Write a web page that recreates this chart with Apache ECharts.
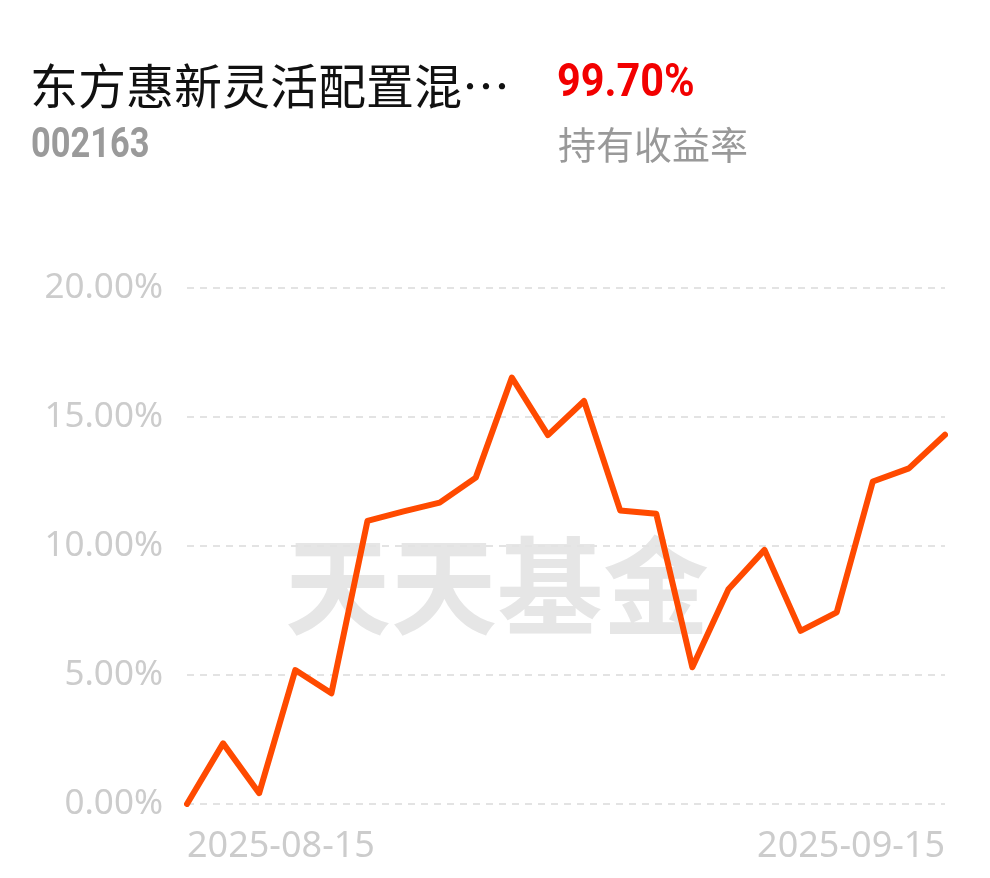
<!DOCTYPE html>
<html>
<head>
<meta charset="utf-8">
<script src="https://cdn.jsdelivr.net/npm/echarts@6/dist/echarts.min.js"></script>
<style>
html,body{margin:0;padding:0;background:#fff;}
#main{width:990px;height:878px;}
</style>
</head>
<body>
<div id="main"></div>
<script>
const dates = ['2025-08-15','2025-08-18','2025-08-19','2025-08-20','2025-08-21','2025-08-22',
  '2025-08-25','2025-08-26','2025-08-27','2025-08-28','2025-08-29',
  '2025-09-01','2025-09-02','2025-09-03','2025-09-04','2025-09-05',
  '2025-09-08','2025-09-09','2025-09-10','2025-09-11','2025-09-12','2025-09-15'];
const returns = [0.00, 2.35, 0.42, 5.19, 4.29, 10.97, 11.34, 11.68, 12.65, 16.53, 14.30,
  15.62, 11.38, 11.25, 5.30, 8.32, 9.85, 6.71, 7.43, 12.50, 13.01, 14.31];
const yTicks = [0, 5, 10, 15, 20];
const fundName = '东方惠新灵活配置混…';
const fundCode = '002163';
const holdReturn = '99.70%';
const holdLabel = '持有收益率';
const watermark = '天天基金';

const chart = echarts.init(document.getElementById('main'));
const last = dates.length - 1;
chart.setOption({
  animation: false,
  backgroundColor: '#fff',
  grid: {left: 187, right: 45, top: 288, bottom: 74, containLabel: false},
  graphic: [
    {type: 'text', x: 30, y: 62, z: 10,
      style: {text: fundName, fontSize: 48, fill: '#111', fontFamily: 'Noto Sans CJK SC'}},
    {type: 'text', x: 31, y: 125, scaleX: 0.82, z: 10,
      style: {text: fundCode, fontSize: 42, fontWeight: 'bold', fill: '#9a9a9a', fontFamily: 'Roboto'}},
    {type: 'text', x: 557, y: 61, scaleX: 0.9, z: 10,
      style: {text: holdReturn, fontSize: 46, fontWeight: 'bold', fill: '#f20000', fontFamily: 'Roboto'}},
    {type: 'text', x: 558, y: 126, z: 10,
      style: {text: holdLabel, fontSize: 38, fill: '#999', fontFamily: 'Noto Sans CJK SC'}},
    {type: 'text', x: 285, y: 533, z: -10,
      style: {text: watermark, fontSize: 106, fontWeight: 'bold', fill: '#e6e6e6', fontFamily: 'Noto Sans CJK SC'}}
  ],
  xAxis: {
    type: 'category',
    data: dates,
    boundaryGap: false,
    axisLine: {show: false},
    axisTick: {show: false},
    axisLabel: {
      interval: function (i) { return i === 0 || i === last; },
      alignMinLabel: 'left',
      alignMaxLabel: 'right',
      color: '#cccccc',
      fontSize: 36,
      fontFamily: 'Noto Sans',
      margin: 25
    },
    splitLine: {show: false}
  },
  yAxis: {
    type: 'value',
    min: yTicks[0],
    max: yTicks[yTicks.length - 1],
    interval: 5,
    axisLine: {show: false},
    axisTick: {show: false},
    axisLabel: {
      formatter: function (v) { return v.toFixed(2) + '%'; },
      color: '#cccccc',
      fontSize: 35,
      fontFamily: 'Noto Sans',
      margin: 24
    },
    splitLine: {lineStyle: {type: [7, 6], color: '#e3e3e3', width: 2}}
  },
  series: [{
    type: 'line',
    data: returns,
    symbol: 'none',
    lineStyle: {color: '#ff4a00', width: 6, join: 'round', cap: 'round'},
    z: 5
  }]
});
</script>
</body>
</html>
